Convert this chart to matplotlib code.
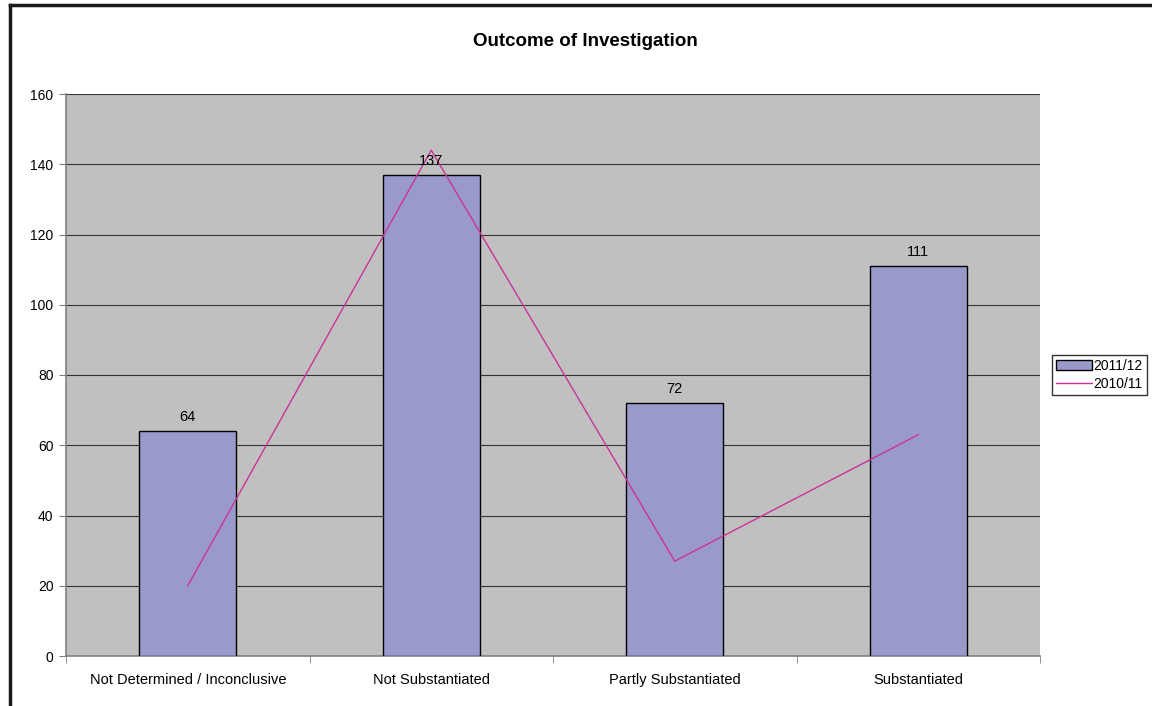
import matplotlib.pyplot as plt
import numpy as np
from matplotlib.lines import Line2D

plt.rcParams['font.family'] = ['Liberation Sans', 'DejaVu Sans']

categories = ['Not Determined / Inconclusive', 'Not Substantiated',
              'Partly Substantiated', 'Substantiated']
vals_2011 = [64, 137, 72, 111]
vals_2010 = [20, 144, 27, 63]

fig = plt.figure(figsize=(11.52, 7.06), dpi=100)
ax = fig.add_axes([66/1152, 50/706, 974/1152, 562/706])
ax.set_facecolor('#C0C0C0')

x = np.arange(len(categories))
bars = ax.bar(x, vals_2011, width=0.4, color='#9999CC', edgecolor='black',
              linewidth=1, label='2011/12', zorder=3)
line, = ax.plot(x, vals_2010, color='#CC3399', linewidth=1, label='2010/11', zorder=4)

for xi, v in zip(x, vals_2011):
    ax.text(xi, v + 2, str(v), ha='center', va='bottom', fontsize=10.5, zorder=5)

ax.set_xlim(-0.5, len(categories) - 0.5)
ax.set_ylim(0, 160)
ax.set_yticks(np.arange(0, 161, 20))
ax.yaxis.grid(True, color='#333333', linewidth=0.8, zorder=1)
ax.set_axisbelow(True)

ax.set_xticks(x)
ax.set_xticklabels(categories, fontsize=10.5)
ax.set_xticks(np.arange(-0.5, len(categories), 1), minor=True)
ax.tick_params(axis='x', which='major', length=0, pad=12)
ax.tick_params(axis='x', which='minor', length=5, color='#808080')
ax.tick_params(axis='y', length=5, color='#808080', labelsize=10, pad=4)

for side in ['top', 'right']:
    ax.spines[side].set_visible(False)
for side in ['left', 'bottom']:
    ax.spines[side].set_color('#808080')
    ax.spines[side].set_linewidth(1.2)

fig.text(585/1152, 1 - 42/706, 'Outcome of Investigation', ha='center',
         va='center', fontsize=13.5, fontweight='bold')

leg = ax.legend(handles=[bars, line], loc='center left',
                bbox_to_anchor=((1052 - 66)/974, 0.50),
                fontsize=10, frameon=True, fancybox=False, edgecolor='black',
                handlelength=2.6, borderpad=0.3, labelspacing=0.3,
                handletextpad=0.1, borderaxespad=0)
leg.get_frame().set_linewidth(1)

# outer chart border
fig.add_artist(Line2D([10/1152, 1], [1 - 5/706, 1 - 5/706], color='#1a1a1a',
                      linewidth=2.5, transform=fig.transFigure))
fig.add_artist(Line2D([10/1152, 10/1152], [0, 1 - 5/706], color='#1a1a1a',
                      linewidth=2.5, transform=fig.transFigure))

fig.savefig('out.png', dpi=100)
